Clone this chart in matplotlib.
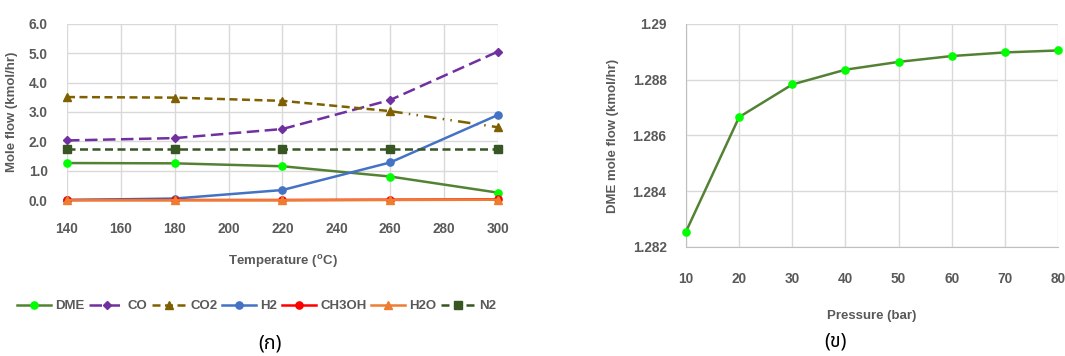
import numpy as np
import matplotlib.pyplot as plt

# left chart (ก): product flow vs temperature
temp = [140, 180, 220, 260, 300]
dme = [1.26, 1.25, 1.15, 0.80, 0.25]
co = [2.03, 2.11, 2.42, 3.41, 5.06]
co2 = [3.51, 3.49, 3.38, 3.03, 2.48]
h2 = [0.0, 0.05, 0.34, 1.28, 2.90]
ch3oh = [0.0, 0.0, 0.0, 0.01, 0.02]
h2o = [-0.01, -0.01, -0.01, 0.0, 0.01]
n2 = [1.75, 1.75, 1.75, 1.75, 1.75]

# right chart (ข): DME flow vs pressure
pressure = [10, 20, 30, 40, 50, 60, 70, 80]
dme_p = [1.28255, 1.28666, 1.28783, 1.28836, 1.28864, 1.28885, 1.28898, 1.28905]
p_yticks = [1.282, 1.284, 1.286, 1.288, 1.290]
p_ylabels = ['1.282', '1.284', '1.286', '1.288', '1.29']

grey = '#595959'
grid_c = '#d9d9d9'
thai = ['Noto Sans Thai', 'Noto Sans Thai Looped', 'Loma', 'Garuda', 'DejaVu Sans', 'Noto Sans']
plt.rcParams['font.family'] = ['Liberation Sans', 'DejaVu Sans']

fig = plt.figure(figsize=(10.65, 3.56), dpi=100)
ax1 = fig.add_axes([0.0629, 0.4382, 0.4047, 0.4944])
ax2 = fig.add_axes([0.6441, 0.3062, 0.3493, 0.6264])

lw = 1.8
ms = 5.2
ax1.plot(temp, dme, color='#548235', lw=lw, marker='o', ms=ms, mfc='#00ff00', mec='#00ff00',
         label='DME', clip_on=False, zorder=3)
ax1.plot(temp, co, color='#7030a0', lw=lw, ls=(0, (5, 2.2)), marker='D', ms=ms - 1,
         label='CO', clip_on=False, zorder=3)
# CO2: dashed, last segment long dash dot dot
ax1.plot(temp[:4], co2[:4], color='#7f6000', lw=lw, ls=(0, (3.2, 1.8)), marker='^', ms=ms + 0.5,
         label='CO2', clip_on=False, zorder=3)
ax1.plot(temp[3:], co2[3:], color='#7f6000', lw=lw, ls=(0, (5, 2.5, 0.6, 2.5, 0.6, 2.5)),
         marker='^', ms=ms + 0.5, markevery=[1], clip_on=False, zorder=3)
ax1.plot(temp, h2, color='#4472c4', lw=lw, marker='o', ms=ms, label='H2', clip_on=False, zorder=3)
ax1.plot(temp, ch3oh, color='#ff0000', lw=lw, marker='o', ms=ms, label='CH3OH', clip_on=False, zorder=3)
ax1.plot(temp, h2o, color='#ed7d31', lw=lw, marker='^', ms=ms + 0.5, label='H2O', clip_on=False, zorder=3)
ax1.plot(temp, n2, color='#375623', lw=lw, ls=(0, (3.2, 1.8)), marker='s', ms=ms,
         label='N2', clip_on=False, zorder=3)

ax1.set_xlim(140, 300)
ax1.set_ylim(0, 6)
ax1.set_xticks(np.arange(140, 301, 20))
ax1.set_yticks(np.arange(0, 6.1, 1))
ax1.set_yticklabels([f'{v:.1f}' for v in np.arange(0, 6.1, 1)])
ax1.set_xlabel('Temperature ($^{\\mathregular{o}}$C)', color=grey, fontsize=9.5, fontweight='bold', labelpad=12)
ax1.set_ylabel('Mole flow (kmol/hr)', color=grey, fontsize=9.5, fontweight='bold', labelpad=8)

ax2.plot(pressure, dme_p, color='#548235', lw=lw, marker='o', ms=ms, mfc='#00ff00', mec='#00ff00',
         clip_on=False, zorder=3)
ax2.set_xlim(10, 80)
ax2.set_ylim(1.282, 1.290)
ax2.set_xticks(pressure)
ax2.set_yticks(p_yticks)
ax2.set_yticklabels(p_ylabels)
ax2.set_xlabel('Pressure (bar)', color=grey, fontsize=9.5, fontweight='bold', labelpad=17)
ax2.set_ylabel('DME mole flow (kmol/hr)', color=grey, fontsize=9.5, fontweight='bold', labelpad=10)

for ax in (ax1, ax2):
    for s in ax.spines.values():
        s.set_visible(False)
    ax.grid(True, color=grid_c, lw=1)
    ax.set_axisbelow(True)
    ax.tick_params(length=0, labelsize=9.8, labelcolor=grey)
    ax.tick_params(axis='x', pad=16)
    ax.tick_params(axis='y', pad=14)
    for t in ax.get_xticklabels() + ax.get_yticklabels():
        t.set_fontweight('bold')
ax2.tick_params(axis='x', pad=18)
ax2.spines['left'].set_visible(True)
ax2.spines['bottom'].set_visible(True)
ax2.spines['left'].set_color('#bfbfbf')
ax2.spines['bottom'].set_color('#bfbfbf')

leg = fig.legend(*ax1.get_legend_handles_labels(), loc='center', bbox_to_anchor=(0.241, 0.14), ncol=7,
                 frameon=False, handlelength=2.6, handletextpad=0.3, columnspacing=0.35,
                 prop={'size': 9.5, 'weight': 'bold'})
for t in leg.get_texts():
    t.set_color(grey)

fig.text(270 / 1065, 1 - 344 / 356, '(ก)', ha='center', va='center', fontsize=14, family=thai)
fig.text(835 / 1065, 1 - 342 / 356, '(ข)', ha='center', va='center', fontsize=14, family=thai)

fig.savefig('out.png', dpi=100)
